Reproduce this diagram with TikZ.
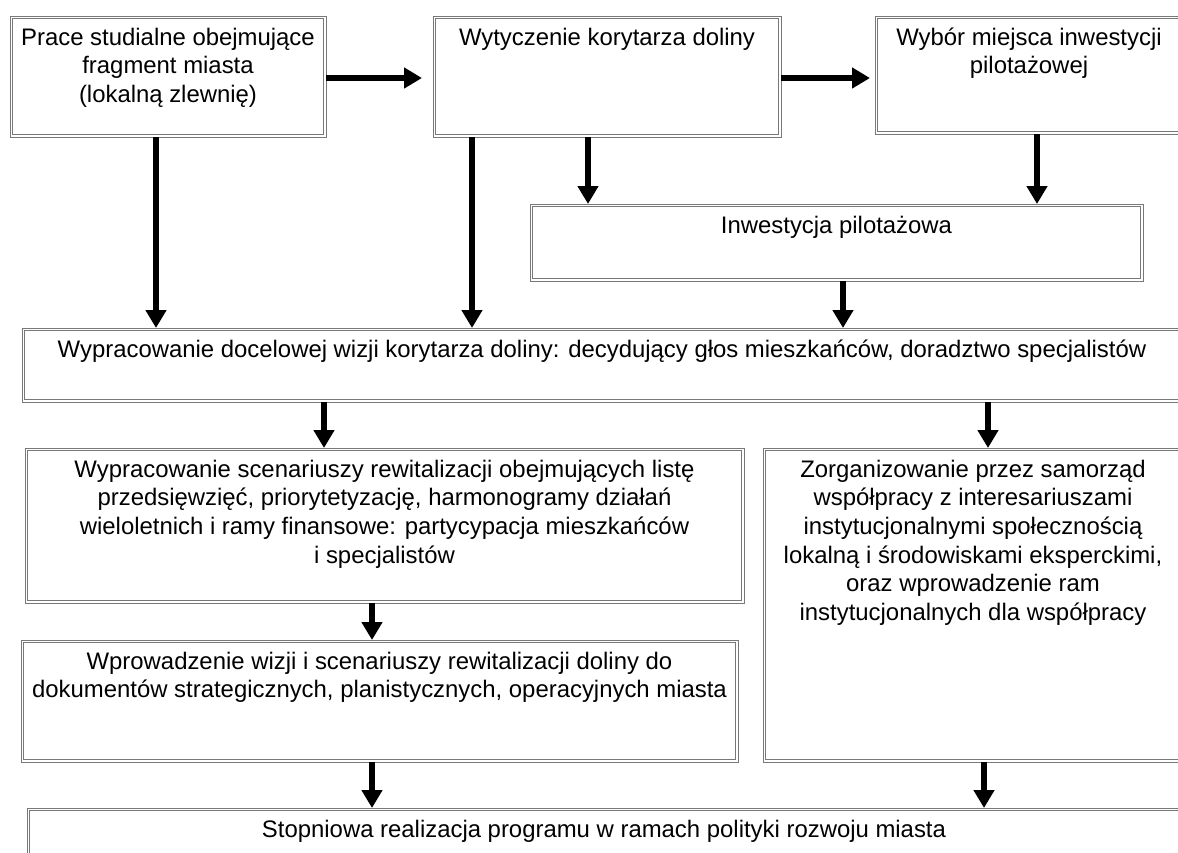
\documentclass[tikz,border=0pt]{standalone}
\usepackage{fontspec}
\setmainfont{Liberation Sans}
\usetikzlibrary{arrows.meta,calc}
\newcommand\fs{\rule{0pt}{22pt}}
\definecolor{boxgray}{RGB}{120,120,120}
\tikzset{
  box/.style={draw=boxgray, line width=0.9pt,
              rectangle, inner sep=0pt, outer sep=0pt, anchor=north west},
  innerline/.style={draw=boxgray, line width=0.9pt},
  txt/.style={anchor=north, inner sep=0pt, align=center,
              font=\fontsize{23.9}{28.6}\selectfont},
  arr/.style={line width=6.5pt, -{Triangle[width=20pt,length=18pt]}},
}
\begin{document}
\begin{tikzpicture}[x=1pt,y=-1pt]
\useasboundingbox (0,0) rectangle (1178,852);
\clip (0,0) rectangle (1178,852);
\fill[white] (0,0) rectangle (1178,852);

% boxes
\node[box, minimum width=316pt,  minimum height=121pt] (A) at (10,16) {};
\node[box, minimum width=348pt,  minimum height=121pt] (B) at (433,16) {};
\node[box, minimum width=308pt,  minimum height=118pt] (C) at (875,16) {};
\node[box, minimum width=613pt,  minimum height=77pt]  (D) at (530,204) {};
\node[box, minimum width=1160pt, minimum height=74pt]  (E) at (22,328) {};
\node[box, minimum width=719pt,  minimum height=155pt] (F) at (25,448) {};
\node[box, minimum width=420pt,  minimum height=314pt] (G) at (763,448) {};
\node[box, minimum width=717pt,  minimum height=122pt] (H) at (21,640) {};
\node[box, minimum width=1154pt, minimum height=80pt]  (I) at (27,808) {};
\foreach \n in {A,B,C,D,E,F,G,H,I}
  \draw[innerline] ($(\n.north west)+(2.4,2.4)$) rectangle ($(\n.south east)+(-2.4,-2.4)$);

% texts
\node[txt] (tA) at ($(A.north)+(0,7)$) {\fs Prace studialne obejmujące\\fragment miasta\\(lokalną zlewnię)};
\node[txt] (tB) at ($(B.north)+(0,7)$) {\fs Wytyczenie korytarza doliny};
\node[txt] (tC) at ($(C.north)+(0,7)$) {\fs Wybór miejsca inwestycji\\pilotażowej};
\node[txt] (tD) at ($(D.north)+(0,7)$) {\fs Inwestycja pilotażowa};
\node[txt] (tE) at ($(E.north)+(0,7)$) {\fs Wypracowanie docelowej wizji korytarza doliny: decydujący głos mieszkańców, doradztwo specjalistów};
\node[txt] (tF) at ($(F.north)+(0,7)$) {\fs Wypracowanie scenariuszy rewitalizacji obejmujących listę\\przedsięwzięć, priorytetyzację, harmonogramy działań\\wieloletnich i ramy finansowe: partycypacja mieszkańców\\i specjalistów};
\node[txt] (tG) at ($(G.north)+(0,7)$) {\fs Zorganizowanie przez samorząd\\współpracy z interesariuszami\\instytucjonalnymi społecznością\\lokalną i środowiskami eksperckimi,\\oraz wprowadzenie ram\\instytucjonalnych dla współpracy};
\node[txt] (tH) at ($(H.north)+(0,7)$) {\fs Wprowadzenie wizji i scenariuszy rewitalizacji doliny do\\dokumentów strategicznych, planistycznych, operacyjnych miasta};
\node[txt] (tI) at ($(I.north)+(0,7)$) {\fs Stopniowa realizacja programu w ramach polityki rozwoju miasta};

% guide coordinates
\coordinate (yh) at (0,78);
\coordinate (x1) at (156,0);
\coordinate (x2) at (472,0);
\coordinate (x3) at (588,0);
\coordinate (x4) at (1037,0);
\coordinate (x5) at (843,0);
\coordinate (x6) at (324,0);
\coordinate (x7) at (988,0);
\coordinate (x8) at (372,0);
\coordinate (x9) at (984,0);

% connectors
\draw[arr, shorten >=11pt] (A.east |- yh) -- (B.west |- yh);
\draw[arr, shorten >=5pt]  (B.east |- yh) -- (C.west |- yh);
\draw[arr] (A.south -| x1) -- (E.north -| x1);
\draw[arr] (B.south -| x2) -- (E.north -| x2);
\draw[arr] (B.south -| x3) -- (D.north -| x3);
\draw[arr] (C.south -| x4) -- (D.north -| x4);
\draw[arr] (D.south -| x5) -- (E.north -| x5);
\draw[arr] (E.south -| x6) -- (F.north -| x6);
\draw[arr] (E.south -| x7) -- (G.north -| x7);
\draw[arr] (F.south -| x8) -- (H.north -| x8);
\draw[arr] (H.south -| x8) -- (I.north -| x8);
\draw[arr] (G.south -| x9) -- (I.north -| x9);
\end{tikzpicture}
\end{document}
